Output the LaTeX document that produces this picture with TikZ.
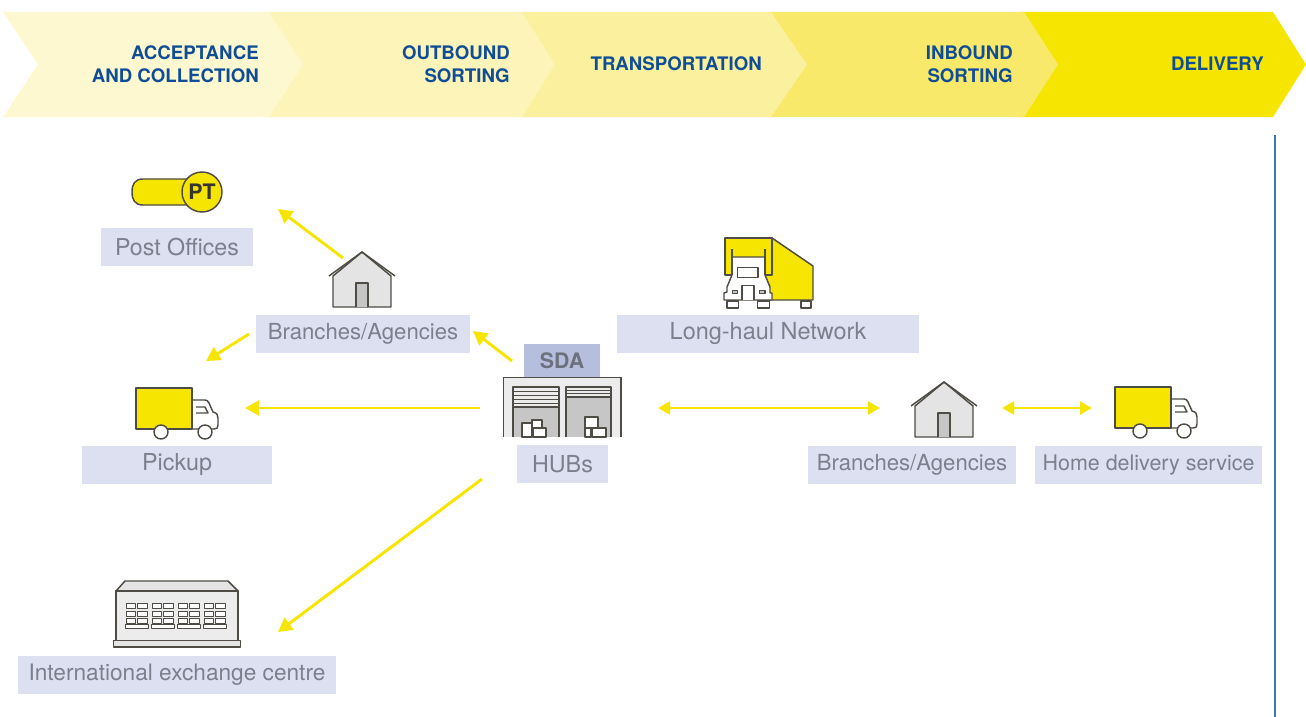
\documentclass[tikz,border=0pt]{standalone}
\usepackage{fontspec}
\setmainfont{TeX Gyre Heros}
\usetikzlibrary{arrows.meta}
\definecolor{yel}{HTML}{F5E500}
\definecolor{ca}{HTML}{FDF8D0}
\definecolor{cb}{HTML}{FCF4B8}
\definecolor{cc}{HTML}{FBF09E}
\definecolor{cd}{HTML}{F8E96A}
\definecolor{headblue}{HTML}{0F4E96}
\definecolor{rule}{HTML}{3A78BE}
\definecolor{labbg}{HTML}{DCE0F0}
\definecolor{labtx}{HTML}{7C808D}
\definecolor{sdabg}{HTML}{B6BEDE}
\definecolor{sdatx}{HTML}{6D717E}
\definecolor{ink}{HTML}{4E4C44}
\definecolor{lgrey}{HTML}{E4E4E4}
\definecolor{mgrey}{HTML}{C6C6C6}
\tikzset{
  x=0.75pt,y=-0.75pt,
  head/.style={font=\fontsize{14}{17.4}\selectfont\bfseries,text=headblue,anchor=east,align=right,inner sep=0pt},
  lab/.style={fill=labbg,text=labtx,inner sep=0pt,anchor=center},
  flow/.style={draw=yel,line width=2.2pt,-{Triangle[length=10.5pt,width=11pt]}},
  flowb/.style={draw=yel,line width=2.2pt,{Triangle[length=9pt,width=9.5pt]}-{Triangle[length=9pt,width=9.5pt]}},
  ico/.style={draw=ink,line width=1.1pt,line join=round},
}
\newcommand{\labelbox}[7]{% name, x0, y0, x1, y1, font size, text
  \pgfmathsetlengthmacro{\lw}{(#4-#2)*0.75pt}
  \pgfmathsetlengthmacro{\lh}{(#5-#3)*0.75pt}
  \node[lab,font=\fontsize{#6}{20}\selectfont,minimum width=\lw,minimum height=\lh] (#1) at ({(#2+#4)/2},{(#3+#5)/2}) {#7};}
\newcommand{\smalltruck}[2]{%
  \begin{scope}[shift={(#1,#2)}]
    \draw[ico,fill=white] (56,12) -- (69,12) .. controls (71,12) and (72,13) .. (73,15) -- (77,24) .. controls (81,25) and (82,27) .. (82,30) -- (82,37) .. controls (82,40) and (81,41) .. (78,41) -- (56,41) -- cycle;
    \draw[ico] (60,19) -- (69,19) -- (72,25) -- (60,25);
    \draw[ico,fill=yel] (0,0) rectangle (56,41);
    \draw[ico,fill=white] (25,44) circle (7);
    \draw[ico,fill=white] (69,44) circle (7);
  \end{scope}}
\newcommand{\house}[2]{%
  \begin{scope}[shift={(#1,#2)}]
    \draw[ico,fill=lgrey] (4,24) -- (33,0) -- (62,24) -- (62,55) -- (4,55) -- cycle;
    \draw[ico,fill=mgrey] (27,55) -- (27,31) -- (39,31) -- (39,55);
    \draw[ico] (0,24) -- (33,0) -- (66,24);
  \end{scope}}
\newcommand{\wingroup}[1]{%
  \begin{scope}[shift={(#1,0)}]
    \foreach \r in {603.5,611,618}{
      \draw[ico,line width=.7pt,fill=white] (0,\r) rectangle (9.5,{\r+5});
      \draw[ico,line width=.7pt,fill=white] (11.5,\r) rectangle (21,{\r+5});}
    \draw[ico,line width=.7pt,fill=white] (-.5,624) rectangle (22,628);
  \end{scope}}
\begin{document}
\begin{tikzpicture}
\useasboundingbox (0,0) rectangle (1306,717);
% process chevrons
\fill[yel] (1020,12) -- (1273,12) -- (1306,64.5) -- (1273,117) -- (1020,117) -- cycle;
\fill[cd] (768,12) -- (1024,12) -- (1058,64.5) -- (1024,117) -- (768,117) -- cycle;
\fill[cc] (518,12) -- (771,12) -- (807,64.5) -- (771,117) -- (518,117) -- cycle;
\fill[cb] (265,12) -- (522,12) -- (555,64.5) -- (522,117) -- (265,117) -- cycle;
\fill[ca] (3,12) -- (269,12) -- (303,64.5) -- (269,117) -- (3,117) -- (38,64.5) -- cycle;
\node[head] (hA) at (259,64) {ACCEPTANCE\\AND COLLECTION};
\node[head] (hB) at (510,64) {OUTBOUND\\SORTING};
\node[head] (hC) at (762,64) {TRANSPORTATION};
\node[head] (hD) at (1013,64) {INBOUND\\SORTING};
\node[head] (hE) at (1264,64) {DELIVERY};
% vertical rule
\draw[draw=rule,line width=1.4pt] (1275,135) -- (1275,717);
% label boxes
\labelbox{lPost}{101}{228}{253}{266}{17.4}{Post Offices}
\labelbox{lBrL}{256}{315}{470}{353}{16.6}{Branches/Agencies}
\labelbox{lLong}{617}{315}{919}{353}{17.6}{Long-haul Network}
\labelbox{lPick}{82}{446}{272}{484}{17.5}{Pickup}
\labelbox{lHub}{517}{445}{608}{483}{17.5}{HUBs}
\labelbox{lBrR}{808}{446}{1016}{484}{16.6}{Branches/Agencies}
\labelbox{lHome}{1035}{446}{1262}{484}{16.1}{Home delivery service}
\labelbox{lInt}{18}{656}{336}{693.5}{17}{International exchange centre}
% PT icon
\draw[ico,fill=yel] (200,179) -- (143,179) .. controls (135,179) and (132,184) .. (132,192) .. controls (132,200) and (135,205) .. (143,205) -- (200,205) -- cycle;
\draw[ico,fill=yel] (202,192) circle (20);
\node[font=\fontsize{16}{16}\selectfont\bfseries,text=ink!70!black,inner sep=0pt] (pt) at (202,192) {PT};
% houses
\house{329}{252}
\house{911}{382}
% small trucks
\smalltruck{136}{388}
\smalltruck{1115}{387}
% long-haul truck
\draw[ico,fill=yel] (772,238) -- (813,266) -- (813,300) -- (760,300) -- (760,270) -- (772,238) -- cycle;
\draw[ico,fill=yel] (725,238) rectangle (772,275);
\draw[ico,fill=white] (732,275) -- (732,257) -- (765,257) -- (765,275) -- (770,287) -- (770,293) -- (772,293) -- (772,300) -- (724,300) -- (724,293) -- (727,292) -- (727,287) -- cycle;
\draw[ico] (732,249) -- (732,275) (765,249) -- (765,275);
\draw[ico,fill=white] (737.5,267.5) rectangle (758,277.5);
\draw[ico,fill=white] (742,300) -- (742,285.5) -- (754,285.5) -- (754,300);
\draw[ico,fill=mgrey,line width=.8pt] (732.5,290.5) rectangle (737.5,293.5);
\draw[ico,fill=mgrey,line width=.8pt] (759.5,290.5) rectangle (765,293.5);
\draw[ico,fill=white] (727,301) rectangle (738.5,308);
\draw[ico,fill=white] (757.5,301) rectangle (769.5,308);
\draw[ico,fill=white] (801,301) rectangle (811,308);
% hub
\node[fill=sdabg,text=sdatx,font=\fontsize{16}{16}\selectfont\bfseries,inner sep=0pt,minimum width=57pt,minimum height=25pt] (sda) at (562,360.5) {SDA};
\fill[lgrey!70!white] (503.5,377.7) rectangle (621,437);
\draw[ico,line width=1.1pt] (503.5,437) -- (503.5,377.7) -- (621,377.7) -- (621,437);
\foreach \xa/\xb/\ys in {513/559/407,566/611/397}{
  \fill[mgrey] (\xa,\ys) rectangle (\xb,437);
  \draw[ico] (\xa,437) -- (\xa,387) -- (\xb,387) -- (\xb,437);
  \draw[ico] (\xa,\ys) -- (\xb,\ys);
}
\foreach \yy in {391,395,399,403} \draw[ico,line width=.7pt] (513,\yy) -- (559,\yy);
\foreach \yy in {390,393} \draw[ico,line width=.7pt] (566,\yy) -- (611,\yy);
\foreach \xa/\ya/\xb/\yb in {522/423/532/437, 533/428/546/437, 532/420/542/428, 585/417/598/428, 585/428/591/437, 592/428/606/437}
  \draw[ico,fill=white] (\xa,\ya) rectangle (\xb,\yb);
% international centre
\fill[lgrey!70!white] (116,591) rectangle (238,640);
\draw[ico,fill=lgrey] (116,591) -- (125,581) -- (228,581) -- (238,591) -- cycle;
\draw[ico] (116,640) -- (116,591) -- (238,591) -- (238,640);
\wingroup{126}\wingroup{152}\wingroup{178}\wingroup{204}
\draw[ico,fill=lgrey] (113.5,640.5) rectangle (240.5,647);
% named ends of the arrows
\coordinate (a1s) at (343,258); \coordinate (a1e) at (278,209);
\coordinate (a2s) at (249,334); \coordinate (a2e) at (206,361);
\coordinate (a3s) at (512,361); \coordinate (a3e) at (473,331);
\coordinate (a4s) at (480,408); \coordinate (a4e) at (245,408);
\coordinate (a5s) at (482,479); \coordinate (a5e) at (278,632);
\coordinate (a6s) at (658,408); \coordinate (a6e) at (880,408);
\coordinate (a7s) at (1002,408); \coordinate (a7e) at (1092,408);
\draw[flow] (a1s) -- (a1e);
\draw[flow] (a2s) -- (a2e);
\draw[flow] (a3s) -- (a3e);
\draw[flow] (a4s) -- (a4e);
\draw[flow] (a5s) -- (a5e);
\draw[flowb] (a6s) -- (a6e);
\draw[flowb] (a7s) -- (a7e);
\end{tikzpicture}
\end{document}
